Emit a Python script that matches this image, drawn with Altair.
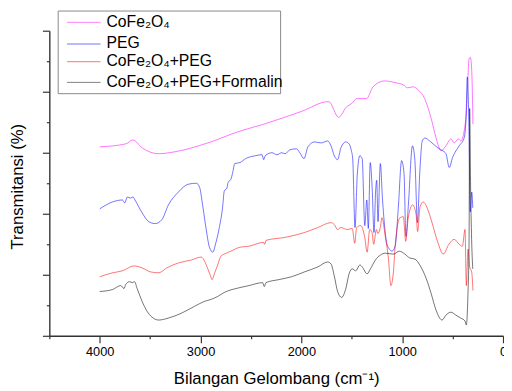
import altair as alt
import pandas as pd

SERIES = ["CoFe₂O₄", "PEG", "CoFe₂O₄+PEG", "CoFe₂O₄+PEG+Formalin"]
COLORS = ["#FF00FF", "#0000FF", "#FF0000", "#000000"]
LEGEND_COLORS = ["#FF80FF", "#7070FF", "#FF7070", "#808080"]

cofe_wn = [4000, 3743, 3671, 3580, 3416, 3254, 2928, 2609, 2374, 1999, 1729, 1631, 1549, 1500,
           1452, 1354, 1289, 1175, 1061, 989, 947, 892, 843, 777, 713, 664, 615, 566, 517, 484,
           442, 419, 386, 361, 337, 324, 311, 298]
cofe_t = [192, 195, 199, 191, 185, 187, 196, 208, 215, 228, 238, 222, 233, 236,
          241, 241, 253, 259, 257, 255, 252, 253, 250, 241, 221, 201, 188, 193, 200, 196,
          200, 198, 208, 231, 281, 283, 271, 215]

peg_wn = [4000, 3873, 3775, 3753, 3726, 3694, 3671, 3645, 3580, 3514, 3450, 3384, 3319, 3221,
          3123, 3042, 3010, 2977, 2944, 2912, 2879, 2847, 2814, 2781, 2765, 2739, 2726, 2700,
          2683, 2661, 2609, 2553, 2456, 2390, 2374, 2358, 2292, 2243, 2195, 2162, 2113, 2048,
          2016, 1974, 1935, 1869, 1804, 1739, 1706, 1674, 1641, 1608, 1559, 1527, 1504, 1491,
          1468, 1446, 1420, 1397, 1371, 1351, 1336, 1317, 1297, 1280, 1263, 1253, 1240, 1217,
          1195, 1151, 1126, 1102, 1070, 1038, 1006, 982, 963, 940, 898, 874, 849, 826, 801,
          774, 728, 647, 598, 566, 533, 501, 435, 386, 368, 354, 339, 325, 310, 300]
peg_t = [129, 136, 138, 135, 141, 140, 141, 137, 125, 116, 114, 118, 133, 146,
         154, 155, 151, 131, 108, 90, 85, 95, 110, 131, 147, 150, 156, 159,
         165, 175, 176, 180, 183, 184, 179, 183, 186, 184, 186, 185, 189, 190,
         186, 180, 192, 197, 196, 198, 193, 183, 179, 191, 197, 195, 188, 180,
         110, 163, 183, 180, 112, 138, 109, 176, 148, 105, 148, 158, 116, 175,
         138, 93, 88, 86, 91, 131, 178, 165, 101, 131, 193, 178, 115, 165, 198,
         201, 198, 191, 188, 185, 171, 181, 193, 201, 218, 263, 218, 126, 146, 130]

cp_wn = [4000, 3873, 3775, 3661, 3580, 3499, 3416, 3335, 3221, 3091, 2993, 2961, 2928, 2902,
         2886, 2863, 2830, 2798, 2765, 2700, 2609, 2521, 2374, 2364, 2351, 2162, 1967, 1837,
         1706, 1674, 1641, 1608, 1544, 1495, 1471, 1452, 1413, 1373, 1348, 1322, 1299, 1283,
         1256, 1243, 1217, 1201, 1168, 1136, 1113, 1087, 1070, 1022, 989, 965, 940, 896, 862,
         847, 823, 791, 761, 713, 647, 593, 537, 484, 435, 403, 377, 364, 347, 331, 311, 298]
cp_t = [60, 64, 66, 71, 69, 65, 64, 69, 74, 77, 80, 76, 68, 61,
        57, 63, 72, 81, 83, 86, 90, 91, 95, 93, 97, 100, 105, 110,
        115, 113, 108, 110, 108, 109, 94, 110, 112, 101, 85, 108, 105, 93,
        108, 104, 110, 120, 101, 78, 51, 65, 91, 120, 121, 96, 120, 133, 123,
        106, 131, 136, 132, 118, 95, 83, 93, 98, 93, 91, 108, 51, 88, 70, 65, 46]

cpf_wn = [4000, 3873, 3792, 3759, 3743, 3704, 3677, 3655, 3629, 3580, 3531, 3482, 3416, 3319,
          3189, 3059, 2961, 2895, 2830, 2765, 2609, 2521, 2384, 2368, 2351, 2228, 2097, 1967,
          1837, 1739, 1706, 1674, 1641, 1602, 1559, 1527, 1495, 1461, 1420, 1397, 1348, 1315,
          1266, 1217, 1168, 1087, 1028, 973, 924, 875, 826, 761, 713, 664, 605, 566, 517, 468,
          419, 377, 364, 347, 337, 331, 321, 310, 300]
cpf_t = [45, 47, 51, 48, 52, 55, 54, 55, 48, 35, 25, 19, 16, 18,
         23, 30, 35, 37, 40, 44, 49, 51, 54, 50, 54, 57, 60, 65,
         70, 75, 73, 61, 45, 39, 48, 63, 68, 66, 72, 70, 63, 68,
         77, 82, 84, 83, 86, 83, 79, 78, 72, 58, 43, 26, 16, 21, 24, 21,
         18, 15, 11, 45, 91, 231, 148, 93, 68]

X_MAJOR = [4000, 3000, 2000, 1000, 0]
X_MINOR = [4500, 3500, 2500, 1500, 500]
Y_MAJOR = [0, 62, 124, 186, 248, 310]
Y_MINOR = [31, 93, 155, 217, 279]

rows = []
for name, wn, t in zip(SERIES, [cofe_wn, peg_wn, cp_wn, cpf_wn], [cofe_t, peg_t, cp_t, cpf_t]):
    for a, b in zip(wn, t):
        rows.append({"series": name, "wn": a, "t": b})
df = pd.DataFrame(rows)

FONT = "Liberation Sans"
xscale = alt.Scale(domain=[4500, 0], nice=False, zero=False)
yscale = alt.Scale(domain=[0, 310], nice=False, zero=False)

lines = alt.Chart(df).mark_line(strokeWidth=0.55, interpolate="monotone").encode(
    x=alt.X("wn:Q", scale=xscale, axis=alt.Axis(
        values=X_MAJOR, orient="bottom", format="d", grid=False, tickSize=7, tickWidth=1.2,
        tickColor="#333", domainColor="#333", domainWidth=1.4, labelFont=FONT,
        labelFontSize=13, labelColor="black", labelPadding=3,
        title="Bilangan Gelombang (cm⁻¹)", titleFont=FONT, titleFontSize=17,
        titleFontWeight="normal", titleColor="black", titlePadding=12, labelFlush=False)),
    y=alt.Y("t:Q", scale=yscale, axis=alt.Axis(
        values=Y_MAJOR, orient="left", labels=False, grid=False, tickSize=7, tickWidth=1.2,
        tickColor="#333", domainColor="#333", domainWidth=1.4,
        title="Transmitansi (%)", titleFont=FONT, titleFontSize=17, titleFontWeight="normal",
        titleColor="black", titleX=-32, titleY=158, titleBaseline="middle", titleAngle=270)),
    color=alt.Color("series:N", scale=alt.Scale(domain=SERIES, range=COLORS), legend=None),
)

minor = alt.Chart(df).mark_point(opacity=0).encode(
    x=alt.X("wn:Q", scale=xscale, axis=alt.Axis(
        values=X_MINOR, orient="bottom", labels=False, domain=False, grid=False,
        tickSize=3, tickWidth=1.2, tickColor="#333", title=None)),
    y=alt.Y("t:Q", scale=yscale, axis=alt.Axis(
        values=Y_MINOR, orient="left", labels=False, domain=False, grid=False,
        tickSize=3, tickWidth=1.2, tickColor="#333", title=None)),
)

# manual legend
legend_layers = [
    alt.Chart(pd.DataFrame({"k": [0]})).mark_rect(fill="white", stroke="#888888", strokeWidth=1).encode(
        x=alt.value(9), x2=alt.value(235), y=alt.value(-20), y2=alt.value(64))
]
ROW_Y = [-9, 13, 31, 52]
for name, col, ry in zip(SERIES, LEGEND_COLORS, ROW_Y):
    d = pd.DataFrame({"series": [name]})
    legend_layers.append(
        alt.Chart(d).mark_rule(color=col, strokeWidth=1).encode(
            x=alt.value(18), x2=alt.value(52), y=alt.value(ry + 0.5)))
    legend_layers.append(
        alt.Chart(d).mark_text(align="left", baseline="middle", font=FONT, fontSize=16,
                               color="black").encode(
            x=alt.value(58), y=alt.value(ry), text="series:N"))

chart = alt.layer(lines, minor, *legend_layers).resolve_axis(
    x="independent", y="independent").properties(
    width=461, height=310,
    autosize=alt.AutoSizeParams(type="none"),
    padding={"left": 42, "top": 20, "right": 1, "bottom": 52},
).configure_view(stroke=None)

chart.save("out.html", embed_options={"renderer": "svg", "actions": False})
